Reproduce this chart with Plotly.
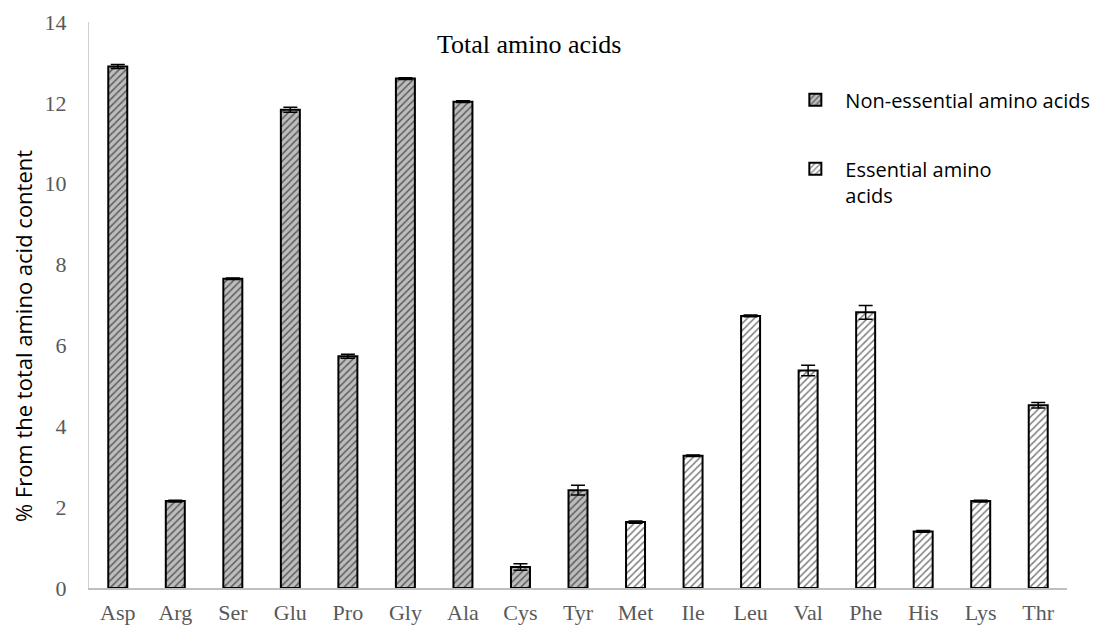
import plotly.graph_objects as go

categories = ["Asp", "Arg", "Ser", "Glu", "Pro", "Gly", "Ala", "Cys", "Tyr",
              "Met", "Ile", "Leu", "Val", "Phe", "His", "Lys", "Thr"]
nonessential_names = ["Asp", "Arg", "Ser", "Glu", "Pro", "Gly", "Ala", "Cys", "Tyr"]
nonessential_values = [12.9, 2.15, 7.65, 11.83, 5.73, 12.6, 12.03, 0.52, 2.42]
nonessential_err = [0.05, 0.02, 0.02, 0.06, 0.05, 0.02, 0.02, 0.08, 0.12]
essential_names = ["Met", "Ile", "Leu", "Val", "Phe", "His", "Lys", "Thr"]
essential_values = [1.63, 3.27, 6.73, 5.38, 6.82, 1.4, 2.15, 4.52]
essential_err = [0.03, 0.02, 0.02, 0.13, 0.17, 0.02, 0.02, 0.07]

fig = go.Figure()
fig.add_trace(go.Bar(
    x=nonessential_names, y=nonessential_values, name="Non-essential amino acids",
    width=0.33, legendgroup="a",
    marker=dict(color="#bdbdbd", line=dict(color="black", width=2),
                pattern=dict(shape="/", fgcolor="black", bgcolor="#bdbdbd", size=5, solidity=0.3)),
    error_y=dict(type="data", array=nonessential_err, color="black", thickness=1.5, width=7),
))
fig.add_trace(go.Bar(
    x=essential_names, y=essential_values, name="Essential amino<br>acids",
    width=0.33, legendgroup="b",
    marker=dict(color="white", line=dict(color="black", width=2),
                pattern=dict(shape="/", fgcolor="black", bgcolor="white", size=5, solidity=0.3)),
    error_y=dict(type="data", array=essential_err, color="black", thickness=1.5, width=7),
))

fig.update_layout(
    width=1101, height=629,
    margin=dict(l=89, r=34, t=22, b=41, autoexpand=False),
    plot_bgcolor="white", paper_bgcolor="white",
    barmode="overlay",
    showlegend=True,
    legend=dict(x=0.712, y=0.897, xanchor="left", yanchor="top",
                font=dict(family="Open Sans", size=20, color="black"),
                tracegroupgap=40, itemwidth=50, valign="top", bgcolor="rgba(0,0,0,0)"),
    xaxis=dict(categoryorder="array", categoryarray=categories,
               showline=True, linecolor="#bfbfbf", linewidth=2, automargin=False,
               tickfont=dict(family="Liberation Serif", size=22, color="#595959"),
               ticks="", showgrid=False, ticklabelstandoff=4),
    yaxis=dict(range=[0, 14], dtick=2, showline=True, linecolor="#d0d0d0", linewidth=1,
               automargin=False,
               tickfont=dict(family="Liberation Serif", size=22, color="#595959"),
               ticks="", showgrid=False, ticklabelstandoff=17),
    annotations=[
        dict(text="Total amino acids", x=0.45, y=0.961, xref="paper", yref="paper",
             xanchor="center", yanchor="middle", showarrow=False,
             font=dict(family="Liberation Serif", size=26, color="black")),
        dict(text="% From the total amino acid content", x=-0.0675, y=0.445,
             xref="paper", yref="paper", xanchor="center", yanchor="middle",
             textangle=-90, showarrow=False,
             font=dict(family="Open Sans", size=22, color="black")),
    ],
)

fig.write_html("out.html", config={"displayModeBar": False},
               post_script="document.body.style.margin='0';document.body.style.padding='0';document.body.style.overflow='hidden';")
